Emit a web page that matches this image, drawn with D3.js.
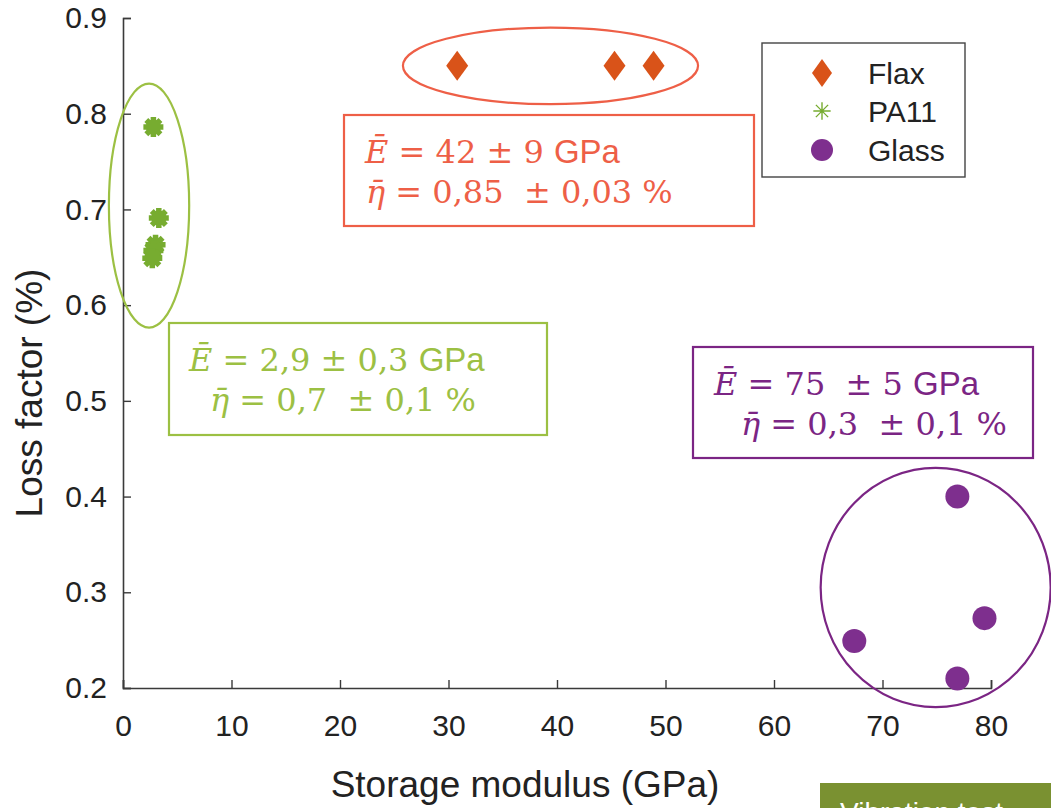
<!DOCTYPE html>
<html>
<head>
<meta charset="utf-8">
<script src="https://cdn.jsdelivr.net/npm/d3@7"></script>
<style>
  html, body { margin: 0; padding: 0; background: #fff; overflow: hidden; }
  svg { display: block; }
</style>
</head>
<body>
<svg id="chart" width="1051" height="808"></svg>
<script>
// Storage modulus (GPa) vs loss factor (%) for three fibre materials
const flaxModulus  = [30.8, 45.3, 48.9];
const flaxLoss     = [0.85, 0.85, 0.85];
const pa11Modulus  = [2.8, 3.3, 3.0, 2.8, 2.7];
const pa11Loss     = [0.786, 0.691, 0.663, 0.657, 0.649];
const glassModulus = [76.9, 79.4, 67.4, 76.9];
const glassLoss    = [0.40, 0.273, 0.249, 0.21];

const xTicks = [0, 10, 20, 30, 40, 50, 60, 70, 80];
const yTicks = [0.2, 0.3, 0.4, 0.5, 0.6, 0.7, 0.8, 0.9];
const legendLabels = ["Flax", "PA11", "Glass"];

// Group envelopes: centre (GPa, %) and half-widths (GPa, %)
const groupCentres = [[39.4, 0.85], [2.4, 0.704], [74.9, 0.305]];
const groupRadii   = [[13.6, 0.040], [3.7, 0.1275], [10.6, 0.125]];

// Mean ± spread summaries
const meanModulus = ["42 ± 9", "2,9 ± 0,3", "75  ± 5"];
const meanLoss    = ["0,85  ± 0,03 %", "0,7  ± 0,1 %", "0,3  ± 0,1 %"];

const markerColors = ["#D95319", "#77AC30", "#7E2F8E"];
const accentColors = ["#EE5F47", "#9CC043", "#7B2584"];

const svg = d3.select("#chart");
const margin = { left: 123, top: 18, right: 1051 - 991, bottom: 808 - 688 };
const W = 1051, H = 808;

const x = d3.scaleLinear().domain([0, 80]).range([margin.left, W - margin.right]);
const y = d3.scaleLinear().domain([0.2, 0.9]).range([H - margin.bottom, margin.top]);

const sansFont = "'Liberation Sans', Arial, Helvetica, sans-serif";
const serifFont = "'DejaVu Serif', 'Liberation Serif', serif";

// Axes (ticks point inward, no box)
const axisColor = "#3a3a3a";
const xAxis = d3.axisBottom(x).tickValues(xTicks).tickSize(-8).tickFormat(d3.format("d"));
const yAxis = d3.axisLeft(y).tickValues(yTicks).tickSize(-8).tickPadding(16).tickFormat(d3.format(".1f"));

const gx = svg.append("g").attr("transform", `translate(0,${y(0.2)})`).call(xAxis);
const gy = svg.append("g").attr("transform", `translate(${x(0)},0)`).call(yAxis);
[gx, gy].forEach(g => {
  g.select(".domain").attr("stroke", axisColor).attr("stroke-width", 1.6);
  g.selectAll(".tick line").attr("stroke", axisColor).attr("stroke-width", 1.4);
  g.selectAll(".tick text").attr("fill", "#222").style("font-family", sansFont).style("font-size", "30px");
});
gx.selectAll(".tick text").attr("y", 48).attr("dy", "0");

// Axis titles
svg.append("text")
  .attr("x", 525).attr("y", 797)
  .attr("text-anchor", "middle")
  .style("font-family", sansFont).style("font-size", "37px").attr("fill", "#222")
  .text("Storage modulus (GPa)");
svg.append("text")
  .attr("transform", `translate(42,${(y(0.2) + y(0.9)) / 2 + 40}) rotate(-90)`)
  .attr("text-anchor", "middle")
  .style("font-family", sansFont).style("font-size", "37px").attr("fill", "#222")
  .text("Loss factor (%)");

// Group envelopes
groupCentres.forEach((c, i) => {
  svg.append("ellipse")
    .attr("cx", x(c[0])).attr("cy", y(c[1]))
    .attr("rx", x(groupRadii[i][0]) - x(0))
    .attr("ry", y(0.2) - y(0.2 + groupRadii[i][1]))
    .attr("fill", "none").attr("stroke", accentColors[i]).attr("stroke-width", 2.2);
});

// Eight-spoke asterisk symbol
const asterisk8 = {
  draw(ctx, size) {
    const r = Math.sqrt(size) / 2;
    for (let k = 0; k < 4; k++) {
      const a = k * Math.PI / 4;
      ctx.moveTo(-r * Math.cos(a), -r * Math.sin(a));
      ctx.lineTo(r * Math.cos(a), r * Math.sin(a));
    }
  }
};
const diamondPath = (w, h) => `M0,${-h}L${w},0L0,${h}L${-w},0Z`;

// Flax: diamonds
svg.append("g").selectAll("path").data(d3.zip(flaxModulus, flaxLoss)).join("path")
  .attr("transform", d => `translate(${x(d[0])},${y(d[1])})`)
  .attr("d", diamondPath(11, 15))
  .attr("fill", markerColors[0]);

// PA11: heavy asterisks
const pa11Sym = d3.symbol().type(asterisk8).size(400);
svg.append("g").selectAll("g").data(d3.zip(pa11Modulus, pa11Loss)).join("g")
  .attr("transform", d => `translate(${x(d[0])},${y(d[1])})`)
  .each(function () {
    d3.select(this).append("circle").attr("r", 7.5).attr("fill", markerColors[1]);
    d3.select(this).append("path").attr("d", pa11Sym())
      .attr("stroke", markerColors[1]).attr("stroke-width", 5.5).attr("fill", "none");
  });

// Glass: circles
svg.append("g").selectAll("circle").data(d3.zip(glassModulus, glassLoss)).join("circle")
  .attr("cx", d => x(d[0])).attr("cy", d => y(d[1])).attr("r", 12)
  .attr("fill", markerColors[2]);

// Summary boxes
const boxes = [
  { x0: 344, y0: 115, w: 410, h: 111, tx1: 365, tx2: 366 },
  { x0: 169, y0: 323, w: 378, h: 112, tx1: 189, tx2: 210 },
  { x0: 693, y0: 347, w: 340, h: 111, tx1: 714, tx2: 741 }
];
boxes.forEach((b, i) => {
  const g = svg.append("g");
  g.append("rect").attr("x", b.x0).attr("y", b.y0).attr("width", b.w).attr("height", b.h)
    .attr("fill", "#fff").attr("stroke", accentColors[i]).attr("stroke-width", 2.2);
  const t1 = g.append("text").attr("x", b.tx1).attr("y", b.y0 + 48)
    .attr("fill", accentColors[i]).style("font-size", "32px").attr("xml:space", "preserve");
  t1.append("tspan").style("font-family", serifFont).style("font-style", "italic").text("Ē");
  t1.append("tspan").style("font-family", serifFont).text(" = " + meanModulus[i] + " ");
  t1.append("tspan").style("font-family", sansFont).style("font-size", "33px").text("GPa");
  const t2 = g.append("text").attr("x", b.tx2).attr("y", b.y0 + 88)
    .attr("fill", accentColors[i]).style("font-size", "32px").attr("xml:space", "preserve");
  t2.append("tspan").style("font-family", serifFont).style("font-style", "italic").text("η\u0304");
  t2.append("tspan").style("font-family", serifFont).text(" = " + meanLoss[i]);
});

// Legend
const lg = svg.append("g");
lg.append("rect").attr("x", 762).attr("y", 43).attr("width", 203).attr("height", 134)
  .attr("fill", "#fff").attr("stroke", "#444").attr("stroke-width", 1.4);
const legendY = [73, 111, 150];
legendLabels.forEach((lab, i) => {
  const gy2 = lg.append("g").attr("transform", `translate(822,${legendY[i]})`);
  if (i === 0) gy2.append("path").attr("d", diamondPath(10, 14)).attr("fill", markerColors[0]);
  if (i === 1) gy2.append("path").attr("d", d3.symbol().type(asterisk8).size(300)())
    .attr("stroke", markerColors[1]).attr("stroke-width", 1.4).attr("fill", "none");
  if (i === 2) gy2.append("circle").attr("r", 11).attr("fill", markerColors[2]);
  lg.append("text").attr("x", 868).attr("y", legendY[i]).attr("dy", "0.36em")
    .style("font-family", sansFont).style("font-size", "30px").attr("fill", "#222").text(lab);
});

// Section banner in the corner
svg.append("rect").attr("x", 820).attr("y", 783).attr("width", 240).attr("height", 40).attr("fill", "#7A9131");
svg.append("text").attr("x", 840).attr("y", 822)
  .style("font-family", sansFont).style("font-size", "28px").attr("fill", "#fff").text("Vibration test");
</script>
</body>
</html>
